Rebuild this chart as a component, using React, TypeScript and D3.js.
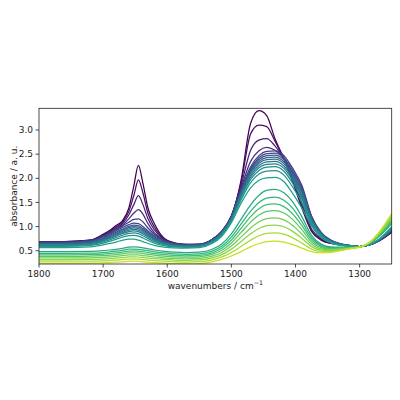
import * as d3 from 'd3'

// wavenumber grid (cm^-1) shared by every spectrum
const wavenumbers = [
  1800, 1760, 1720, 1700, 1690, 1680, 1670, 1660, 1652, 1645,
  1638, 1630, 1620, 1605, 1590, 1570, 1550, 1530, 1515, 1500,
  1485, 1470, 1457, 1445, 1432, 1418, 1405, 1390, 1375, 1360,
  1345, 1330, 1315, 1300, 1285, 1270, 1250,
]

// one row per spectrum (darkest first)
const absorbance = [
  [0.69, 0.69, 0.72, 0.84, 0.92, 1.02, 1.12, 1.38, 1.85, 2.27, 1.9, 1.38, 1.06, 0.76, 0.67, 0.63, 0.63, 0.72, 0.88, 1.2, 1.95, 3.14, 3.4, 3.3, 2.82, 2.4, 1.95, 1.38, 0.9, 0.72, 0.65, 0.62, 0.6, 0.585, 0.62, 0.7, 0.88],
  [0.69, 0.69, 0.72, 0.83, 0.9, 0.99, 1.09, 1.31, 1.65, 1.97, 1.7, 1.27, 0.99, 0.74, 0.66, 0.63, 0.63, 0.73, 0.9, 1.22, 1.9, 2.92, 3.1, 3.07, 2.77, 2.4, 1.98, 1.42, 0.92, 0.73, 0.655, 0.62, 0.6, 0.585, 0.62, 0.705, 0.89],
  [0.685, 0.685, 0.715, 0.82, 0.89, 0.97, 1.06, 1.24, 1.46, 1.64, 1.46, 1.16, 0.93, 0.73, 0.655, 0.625, 0.63, 0.73, 0.9, 1.22, 1.85, 2.58, 2.79, 2.82, 2.67, 2.4, 2.02, 1.48, 0.95, 0.75, 0.665, 0.625, 0.6, 0.585, 0.62, 0.71, 0.9],
  [0.68, 0.68, 0.71, 0.81, 0.88, 0.95, 1.03, 1.16, 1.28, 1.35, 1.26, 1.06, 0.87, 0.72, 0.65, 0.62, 0.63, 0.73, 0.9, 1.22, 1.8, 2.35, 2.57, 2.64, 2.58, 2.42, 2.1, 1.6, 1.03, 0.78, 0.675, 0.63, 0.605, 0.585, 0.62, 0.71, 0.905],
  [0.675, 0.675, 0.705, 0.8, 0.86, 0.93, 1.01, 1.09, 1.15, 1.16, 1.1, 0.97, 0.84, 0.71, 0.65, 0.62, 0.63, 0.73, 0.9, 1.21, 1.76, 2.24, 2.47, 2.56, 2.57, 2.47, 2.22, 1.85, 1.22, 0.88, 0.72, 0.645, 0.61, 0.585, 0.62, 0.71, 0.91],
  [0.67, 0.67, 0.7, 0.78, 0.84, 0.91, 0.98, 1.04, 1.07, 1.06, 1.0, 0.91, 0.81, 0.7, 0.645, 0.62, 0.624, 0.723, 0.891, 1.198, 1.735, 2.2, 2.424, 2.51, 2.52, 2.421, 2.173, 1.808, 1.202, 0.871, 0.715, 0.642, 0.608, 0.585, 0.621, 0.713, 0.918],
  [0.657, 0.657, 0.686, 0.761, 0.817, 0.882, 0.948, 1.004, 1.03, 1.019, 0.963, 0.879, 0.786, 0.685, 0.635, 0.612, 0.62, 0.717, 0.884, 1.189, 1.715, 2.17, 2.388, 2.472, 2.482, 2.384, 2.137, 1.775, 1.188, 0.864, 0.71, 0.639, 0.607, 0.585, 0.622, 0.715, 0.924],
  [0.648, 0.648, 0.675, 0.746, 0.8, 0.862, 0.924, 0.977, 1.001, 0.989, 0.935, 0.855, 0.768, 0.674, 0.627, 0.606, 0.614, 0.711, 0.876, 1.179, 1.693, 2.134, 2.348, 2.428, 2.438, 2.34, 2.095, 1.737, 1.172, 0.856, 0.706, 0.637, 0.605, 0.585, 0.622, 0.717, 0.932],
  [0.638, 0.638, 0.664, 0.732, 0.783, 0.841, 0.9, 0.95, 0.971, 0.958, 0.907, 0.832, 0.75, 0.662, 0.619, 0.6, 0.61, 0.705, 0.869, 1.17, 1.673, 2.104, 2.312, 2.389, 2.399, 2.303, 2.059, 1.704, 1.158, 0.849, 0.701, 0.634, 0.604, 0.585, 0.623, 0.719, 0.938],
  [0.629, 0.629, 0.653, 0.718, 0.766, 0.82, 0.877, 0.923, 0.941, 0.927, 0.879, 0.809, 0.732, 0.651, 0.612, 0.595, 0.604, 0.698, 0.86, 1.158, 1.648, 2.064, 2.266, 2.34, 2.35, 2.254, 2.012, 1.662, 1.14, 0.84, 0.696, 0.631, 0.602, 0.585, 0.624, 0.722, 0.946],
  [0.62, 0.62, 0.642, 0.703, 0.749, 0.8, 0.853, 0.896, 0.912, 0.897, 0.851, 0.785, 0.714, 0.64, 0.604, 0.589, 0.598, 0.691, 0.851, 1.146, 1.623, 2.024, 2.22, 2.29, 2.3, 2.205, 1.965, 1.62, 1.122, 0.831, 0.691, 0.628, 0.6, 0.585, 0.625, 0.725, 0.954],
  [0.606, 0.606, 0.627, 0.682, 0.724, 0.77, 0.818, 0.857, 0.869, 0.853, 0.811, 0.751, 0.688, 0.624, 0.593, 0.58, 0.591, 0.682, 0.84, 1.132, 1.592, 1.976, 2.164, 2.23, 2.24, 2.146, 1.908, 1.568, 1.1, 0.82, 0.684, 0.624, 0.598, 0.585, 0.626, 0.728, 0.964],
  [0.59, 0.59, 0.609, 0.658, 0.696, 0.735, 0.779, 0.812, 0.819, 0.802, 0.764, 0.712, 0.658, 0.605, 0.58, 0.571, 0.581, 0.67, 0.825, 1.112, 1.55, 1.91, 2.087, 2.147, 2.157, 2.065, 1.83, 1.497, 1.07, 0.805, 0.675, 0.619, 0.595, 0.585, 0.628, 0.733, 0.978],
  [0.565, 0.565, 0.58, 0.62, 0.65, 0.68, 0.715, 0.74, 0.74, 0.72, 0.69, 0.65, 0.61, 0.575, 0.56, 0.555, 0.565, 0.65, 0.8, 1.08, 1.48, 1.8, 1.96, 2.01, 2.02, 1.93, 1.7, 1.38, 1.02, 0.78, 0.66, 0.61, 0.59, 0.585, 0.63, 0.74, 1.0],
  [0.48, 0.48, 0.485, 0.5, 0.515, 0.53, 0.55, 0.575, 0.58, 0.575, 0.56, 0.54, 0.515, 0.49, 0.47, 0.46, 0.47, 0.53, 0.64, 0.85, 1.15, 1.45, 1.65, 1.75, 1.77, 1.7, 1.52, 1.2, 0.82, 0.64, 0.58, 0.575, 0.575, 0.58, 0.65, 0.79, 1.06],
  [0.445, 0.445, 0.449, 0.463, 0.476, 0.49, 0.508, 0.531, 0.535, 0.53, 0.517, 0.498, 0.476, 0.453, 0.435, 0.425, 0.435, 0.491, 0.592, 0.781, 1.05, 1.32, 1.5, 1.591, 1.61, 1.547, 1.386, 1.103, 0.769, 0.612, 0.563, 0.564, 0.57, 0.579, 0.653, 0.804, 1.092],
  [0.414, 0.414, 0.418, 0.43, 0.442, 0.455, 0.472, 0.492, 0.497, 0.492, 0.479, 0.462, 0.441, 0.421, 0.404, 0.395, 0.404, 0.457, 0.55, 0.721, 0.962, 1.206, 1.37, 1.453, 1.47, 1.414, 1.271, 1.019, 0.725, 0.588, 0.548, 0.554, 0.565, 0.579, 0.656, 0.815, 1.119],
  [0.384, 0.384, 0.387, 0.397, 0.408, 0.42, 0.435, 0.454, 0.458, 0.453, 0.441, 0.426, 0.407, 0.388, 0.374, 0.365, 0.374, 0.423, 0.509, 0.661, 0.875, 1.093, 1.24, 1.315, 1.331, 1.282, 1.155, 0.936, 0.681, 0.564, 0.533, 0.544, 0.561, 0.578, 0.658, 0.827, 1.146],
  [0.351, 0.351, 0.353, 0.363, 0.372, 0.383, 0.396, 0.413, 0.416, 0.412, 0.4, 0.387, 0.37, 0.354, 0.341, 0.332, 0.341, 0.387, 0.464, 0.597, 0.781, 0.971, 1.1, 1.167, 1.181, 1.139, 1.03, 0.845, 0.633, 0.538, 0.517, 0.534, 0.556, 0.577, 0.661, 0.84, 1.176],
  [0.318, 0.318, 0.319, 0.328, 0.336, 0.345, 0.357, 0.371, 0.374, 0.37, 0.36, 0.348, 0.334, 0.319, 0.308, 0.3, 0.308, 0.351, 0.419, 0.533, 0.688, 0.85, 0.96, 1.019, 1.032, 0.996, 0.906, 0.755, 0.585, 0.512, 0.501, 0.523, 0.551, 0.577, 0.664, 0.852, 1.205],
  [0.283, 0.283, 0.283, 0.29, 0.297, 0.305, 0.315, 0.327, 0.33, 0.326, 0.316, 0.306, 0.294, 0.282, 0.273, 0.265, 0.273, 0.312, 0.371, 0.464, 0.587, 0.719, 0.81, 0.86, 0.871, 0.843, 0.772, 0.658, 0.534, 0.485, 0.483, 0.512, 0.546, 0.576, 0.667, 0.866, 1.236],
  [0.245, 0.245, 0.245, 0.25, 0.255, 0.262, 0.27, 0.28, 0.282, 0.278, 0.27, 0.262, 0.252, 0.242, 0.235, 0.228, 0.235, 0.27, 0.32, 0.39, 0.48, 0.58, 0.65, 0.69, 0.7, 0.68, 0.63, 0.555, 0.48, 0.455, 0.465, 0.5, 0.54, 0.575, 0.67, 0.88, 1.27],
]

const xTicks = [1800, 1700, 1600, 1500, 1400, 1300]
const yTicks = [0.5, 1.0, 1.5, 2.0, 2.5, 3.0]

const font = 'DejaVu Sans'
const fontSize = 9
const ink = '#222'

export default function App() {
  const left = 39
  const right = 391.7
  const top = 108.3
  const bottom = 264

  const x = d3.scaleLinear().domain([1800, 1250]).range([left, right])
  const y = d3.scaleLinear().domain([0.225, 3.45]).range([bottom, top])

  const line = d3
    .line<number>()
    .x((_, i) => x(wavenumbers[i]))
    .y(d => y(d))
    .curve(d3.curveMonotoneX)

  const color = (k: number) => d3.interpolateViridis(k / 23)

  return (
    <svg
      width={400}
      height={400}
      style={{ position: 'absolute', left: 0, top: 0, background: '#fff' }}
      fontFamily={font}
    >
      <defs>
        <clipPath id="plot-area">
          <rect x={left} y={top} width={right - left} height={bottom - top} />
        </clipPath>
      </defs>

      <g clipPath="url(#plot-area)">
        {absorbance.map((row, k) => (
          <path key={k} d={line(row) ?? ''} fill="none" stroke={color(k)} strokeWidth={1.25} />
        ))}
      </g>

      <rect
        x={left}
        y={top}
        width={right - left}
        height={bottom - top}
        fill="none"
        stroke={ink}
        strokeWidth={0.8}
      />

      {xTicks.map(t => (
        <g key={t} transform={`translate(${x(t)},${bottom})`}>
          <line y2={3.5} stroke={ink} strokeWidth={0.8} />
          <text y={12.8} textAnchor="middle" fontSize={fontSize} fill={ink}>
            {t}
          </text>
        </g>
      ))}

      {yTicks.map(t => (
        <g key={t} transform={`translate(${left},${y(t)})`}>
          <line x2={-3.5} stroke={ink} strokeWidth={0.8} />
          <text x={-6} dy="0.35em" textAnchor="end" fontSize={fontSize} fill={ink}>
            {t.toFixed(1)}
          </text>
        </g>
      ))}

      <text
        x={(left + right) / 2}
        y={288.5}
        textAnchor="middle"
        fontSize={fontSize}
        fill={ink}
      >
        wavenumbers / cm
        <tspan fontSize={fontSize * 0.7} dy={-3.6}>
          −1
        </tspan>
      </text>

      <text
        transform={`translate(16.5,${(top + bottom) / 2}) rotate(-90)`}
        textAnchor="middle"
        fontSize={fontSize}
        fill={ink}
      >
        absorbance / a. u.
      </text>
    </svg>
  )
}
